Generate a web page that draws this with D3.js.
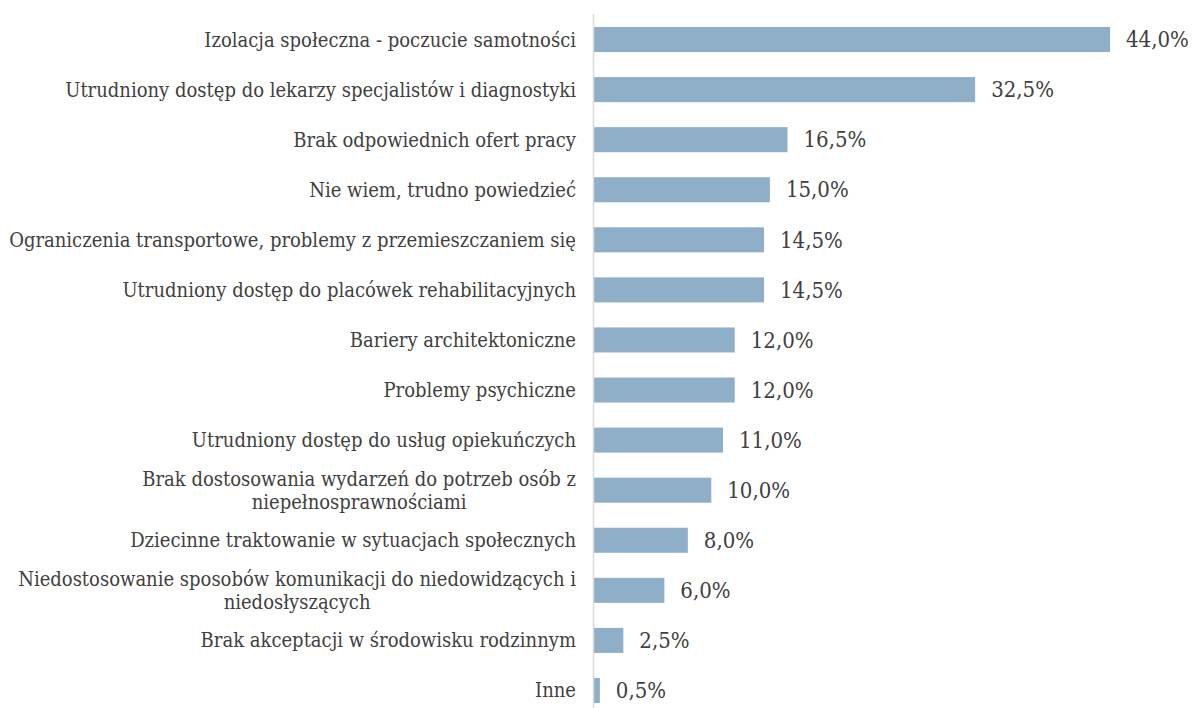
<!DOCTYPE html>
<html>
<head>
<meta charset="utf-8">
<script src="https://cdn.jsdelivr.net/npm/d3@7"></script>
<style>
  body { margin: 0; background: #fff; }
  svg { display: block; }
</style>
</head>
<body>
<script>
// categories (top to bottom), label lines split where the original wraps
var categories = [
    ['Izolacja społeczna - poczucie samotności'],
    ['Utrudniony dostęp do lekarzy specjalistów i diagnostyki'],
    ['Brak odpowiednich ofert pracy'],
    ['Nie wiem, trudno powiedzieć'],
    ['Ograniczenia transportowe, problemy z przemieszczaniem się'],
    ['Utrudniony dostęp do placówek rehabilitacyjnych'],
    ['Bariery architektoniczne'],
    ['Problemy psychiczne'],
    ['Utrudniony dostęp do usług opiekuńczych'],
    ['Brak dostosowania wydarzeń do potrzeb osób z', 'niepełnosprawnościami'],
    ['Dziecinne traktowanie w sytuacjach społecznych'],
    ['Niedostosowanie sposobów komunikacji do niedowidzących i', 'niedosłyszących'],
    ['Brak akceptacji w środowisku rodzinnym'],
    ['Inne']
];

var values = [44.0, 32.5, 16.5, 15.0, 14.5, 14.5, 12.0, 12.0, 11.0, 10.0, 8.0, 6.0, 2.5, 0.5];

var width = 1196, height = 708;
var fontFam = '"DejaVu Serif Condensed", "DejaVu Serif", serif';

var svg = d3.select('body').append('svg')
    .attr('width', width)
    .attr('height', height);

var idx = d3.range(categories.length);

var y = d3.scaleBand()
    .domain(idx)
    .range([14.5, 715.5])
    .paddingInner(0.5)
    .paddingOuter(0.25);

var x = d3.scaleLinear()
    .domain([0, 44])
    .range([594, 1110]);

// bars
svg.selectAll('rect.bar').data(idx).enter().append('rect')
    .attr('class', 'bar')
    .attr('x', x(0))
    .attr('y', function(i) { return y(i); })
    .attr('width', function(i) { return x(values[i]) - x(0); })
    .attr('height', y.bandwidth())
    .attr('fill', '#8faec7');

// vertical axis line
svg.append('line')
    .attr('x1', x(0) - 0.5).attr('x2', x(0) - 0.5)
    .attr('y1', 14).attr('y2', height)
    .attr('stroke', '#d9d9d9')
    .attr('stroke-width', 1.5);

// value labels
svg.selectAll('text.val').data(idx).enter().append('text')
    .attr('class', 'val')
    .attr('x', function(i) { return x(values[i]) + 16; })
    .attr('y', function(i) { return y(i) + y.bandwidth() / 2; })
    .attr('dy', '0.35em')
    .attr('font-family', fontFam)
    .attr('font-size', 22)
    .attr('fill', '#404040')
    .text(function(i) { return values[i].toFixed(1).replace('.', ',') + '%'; });

// category labels
var labelRight = 576;
var lineH = 23;
var labels = svg.selectAll('g.lab').data(idx).enter().append('g')
    .attr('class', 'lab');

labels.each(function(i) {
    var g = d3.select(this);
    var lines = categories[i];
    var cy = y(i) + y.bandwidth() / 2;
    if (lines.length === 1) {
        g.append('text')
            .attr('x', labelRight)
            .attr('y', cy)
            .attr('dy', '0.35em')
            .attr('text-anchor', 'end')
            .attr('font-family', fontFam)
            .attr('font-size', 20)
            .attr('fill', '#404040')
            .text(lines[0]);
    } else {
        var t = g.append('text')
            .attr('font-family', fontFam)
            .attr('font-size', 20)
            .attr('fill', '#404040')
            .attr('text-anchor', 'middle');
        var spans = lines.map(function(l, k) {
            return t.append('tspan')
                .attr('y', cy + (k - (lines.length - 1) / 2) * lineH)
                .attr('dy', '0.35em')
                .text(l);
        });
        var w = d3.max(spans, function(s) { return s.node().getComputedTextLength(); });
        spans.forEach(function(s) { s.attr('x', labelRight - w / 2); });
    }
});
</script>
</body>
</html>
